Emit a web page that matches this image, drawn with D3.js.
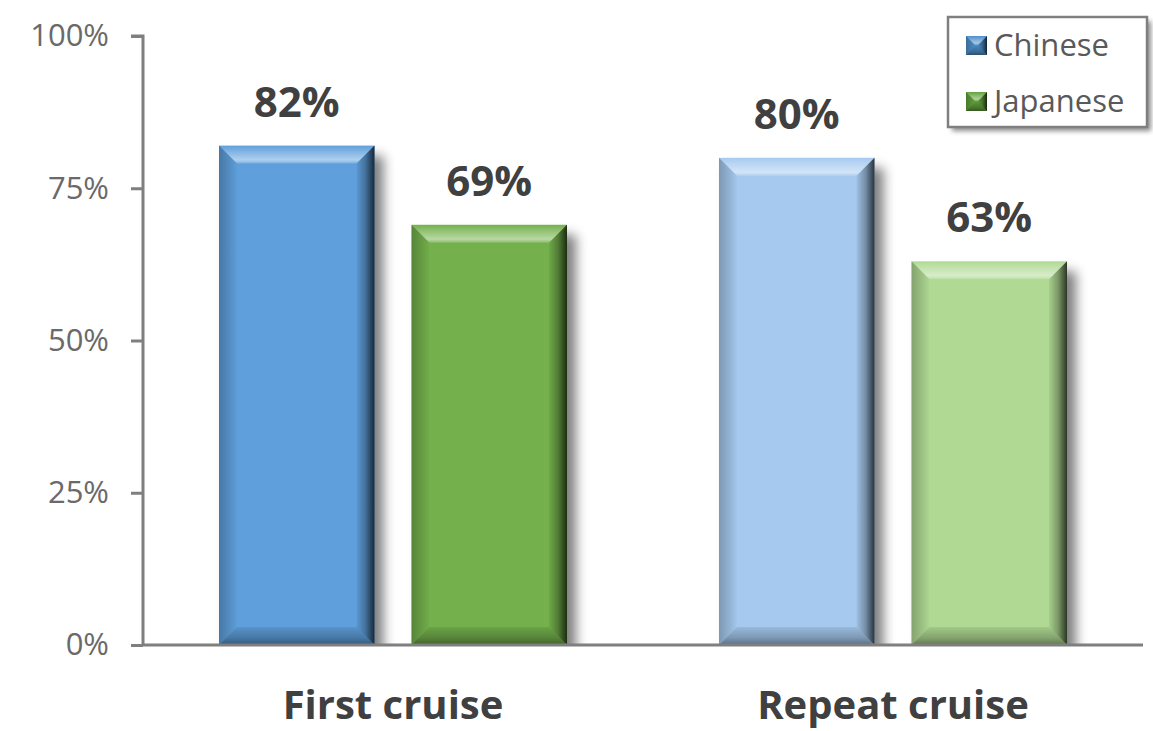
<!DOCTYPE html>
<html>
<head>
<meta charset="utf-8">
<script src="https://cdn.jsdelivr.net/npm/d3@7"></script>
<style>
  html, body { margin: 0; padding: 0; background: #ffffff; }
  svg { display: block; }
</style>
</head>
<body>
<svg id="chart" width="1153" height="731"></svg>
<script>
// Share of respondents by cruise experience
const categories = ["First cruise", "Repeat cruise"];
const seriesNames = ["Chinese", "Japanese"];
const chineseValues = [0.82, 0.80];
const japaneseValues = [0.69, 0.63];
const tickValues = [0, 0.25, 0.5, 0.75, 1];
const tickLabels = ["0%", "25%", "50%", "75%", "100%"];

// fill colours per category (first = saturated, repeat = light tint)
const palette = {
  "Chinese":  ["#5fa0dc", "#a6caef"],
  "Japanese": ["#74b14c", "#b0da94"]
};
const legendColors = { "Chinese": "#4f8fcb", "Japanese": "#62a23c" };

const svg = d3.select("#chart");
const font = "'Open Sans', 'DejaVu Sans', sans-serif";

const plotLeft = 143, plotRight = 1143, plotTop = 36, plotBottom = 645;

const x0 = d3.scaleBand().domain(categories).range([plotLeft, plotRight])
  .paddingInner(0.304).paddingOuter(0.152);
const x1 = d3.scaleBand().domain(seriesNames).range([0, x0.bandwidth()])
  .paddingInner(0.192);
const y = d3.scaleLinear().domain([0, 1]).range([plotBottom, plotTop]);

const rows = [];
categories.forEach((c, i) => {
  rows.push({ cat: c, ci: i, s: "Chinese", v: chineseValues[i] });
  rows.push({ cat: c, ci: i, s: "Japanese", v: japaneseValues[i] });
});

// gradients used for the bevelled bar edges
const defs = svg.append("defs");
function grad(id, ax, ay, bx, by, stops) {
  const g = defs.append("linearGradient").attr("id", id)
    .attr("x1", ax).attr("y1", ay).attr("x2", bx).attr("y2", by);
  stops.forEach(s => g.append("stop").attr("offset", s[0])
    .attr("stop-color", s[1]).attr("stop-opacity", s[2]));
}
grad("bevTop", 0, 0, 0, 1, [[0, "#fff", 0.0], [0.55, "#fff", 0.35], [0.8, "#fff", 0.5], [1, "#fff", 0.15]]);
grad("bevRight", 0, 0, 1, 0, [[0, "#000", 0.05], [0.5, "#000", 0.3], [1, "#000", 0.75]]);
grad("bevBottom", 0, 0, 0, 1, [[0, "#000", 0.08], [0.6, "#000", 0.25], [1, "#000", 0.45]]);
grad("bevLeft", 0, 0, 1, 0, [[0, "#000", 0.25], [1, "#000", 0.02]]);
defs.append("filter").attr("id", "boxShadow").attr("x", "-10%").attr("y", "-10%")
  .attr("width", "130%").attr("height", "140%")
  .append("feGaussianBlur").attr("stdDeviation", 2.5);
defs.append("filter").attr("id", "barShadow").attr("x", "-30%").attr("y", "-10%")
  .attr("width", "160%").attr("height", "120%")
  .append("feGaussianBlur").attr("stdDeviation", 6);
defs.append("clipPath").attr("id", "plotClip").append("rect")
  .attr("x", 0).attr("y", 0).attr("width", 1153).attr("height", plotBottom);

function bevelBar(g, bx, by, bw, bh, color, b) {
  g.append("rect").attr("x", bx).attr("y", by).attr("width", bw).attr("height", bh)
    .attr("fill", color);
  const ex = bx + bw, ey = by + bh;
  const poly = (pts, fill) => g.append("polygon")
    .attr("points", pts.map(p => p.join(",")).join(" ")).attr("fill", fill);
  poly([[bx, by], [ex, by], [ex - b, by + b], [bx + b, by + b]], "url(#bevTop)");
  poly([[ex - b, by + b], [ex, by], [ex, ey], [ex - b, ey - b]], "url(#bevRight)");
  poly([[bx + b, ey - b], [ex - b, ey - b], [ex, ey], [bx, ey]], "url(#bevBottom)");
  poly([[bx, by], [bx + b, by + b], [bx + b, ey - b], [bx, ey]], "url(#bevLeft)");
}

// soft drop shadows cast to the right of each bar
const shadowG = svg.append("g").attr("clip-path", "url(#plotClip)");
rows.forEach(d => {
  const bx = x0(d.cat) + x1(d.s);
  shadowG.append("rect").attr("x", bx + 9).attr("y", y(d.v) + 10)
    .attr("width", x1.bandwidth()).attr("height", plotBottom - y(d.v))
    .attr("fill", "#000").attr("opacity", 0.5).attr("filter", "url(#barShadow)");
});

// bars
const barG = svg.append("g");
rows.forEach(d => {
  const bx = x0(d.cat) + x1(d.s);
  bevelBar(barG, bx, y(d.v), x1.bandwidth(), plotBottom - y(d.v), palette[d.s][d.ci], 18);
});

// y axis
const yAxis = d3.axisLeft(y).tickValues(tickValues)
  .tickFormat((d, i) => tickLabels[i]).tickSize(12).tickPadding(22);
const yg = svg.append("g").attr("transform", `translate(${plotLeft},0)`).call(yAxis);
yg.select(".domain").attr("stroke", "#7f7f7f").attr("stroke-width", 3)
  .attr("d", `M${-12},${plotTop}H0V${plotBottom}`);
yg.selectAll(".tick line").attr("stroke", "#7f7f7f").attr("stroke-width", 3);
yg.selectAll(".tick text").attr("fill", "#6a6a6a").attr("font-family", font)
  .attr("font-size", 31).attr("font-weight", 400);

// x axis baseline and category labels
const xAxis = d3.axisBottom(x0).tickSize(0).tickPadding(46);
const xg = svg.append("g").attr("transform", `translate(0,${plotBottom})`).call(xAxis);
xg.select(".domain").attr("stroke", "#7f7f7f").attr("stroke-width", 3)
  .attr("d", `M${plotLeft},0H${plotRight}`);
xg.selectAll(".tick text").attr("fill", "#404040").attr("font-family", font)
  .attr("font-size", 40).attr("font-weight", 700);

// value labels
svg.append("g").selectAll("text").data(rows).join("text")
  .attr("x", d => x0(d.cat) + x1(d.s) + x1.bandwidth() / 2)
  .attr("y", d => y(d.v) - 29)
  .attr("text-anchor", "middle")
  .attr("fill", "#404040").attr("font-family", font)
  .attr("font-size", 42).attr("font-weight", 700)
  .text(d => Math.round(d.v * 100) + "%");

// legend
const lg = svg.append("g");
lg.append("rect").attr("x", 952).attr("y", 21).attr("width", 199).attr("height", 110)
  .attr("fill", "#000").attr("opacity", 0.45).attr("filter", "url(#boxShadow)");
lg.append("rect").attr("x", 948).attr("y", 17).attr("width", 199).attr("height", 110)
  .attr("fill", "#fff").attr("stroke", "#7f7f7f").attr("stroke-width", 2.5);
seriesNames.forEach((s, i) => {
  const ly = 36 + i * 56;
  const mk = lg.append("g");
  bevelBar(mk, 966, ly, 21, 19, legendColors[s], 9);
  lg.append("text").attr("x", 994).attr("y", ly + 20)
    .attr("fill", "#595959").attr("font-family", font).attr("font-size", 31)
    .text(s);
});
</script>
</body>
</html>
